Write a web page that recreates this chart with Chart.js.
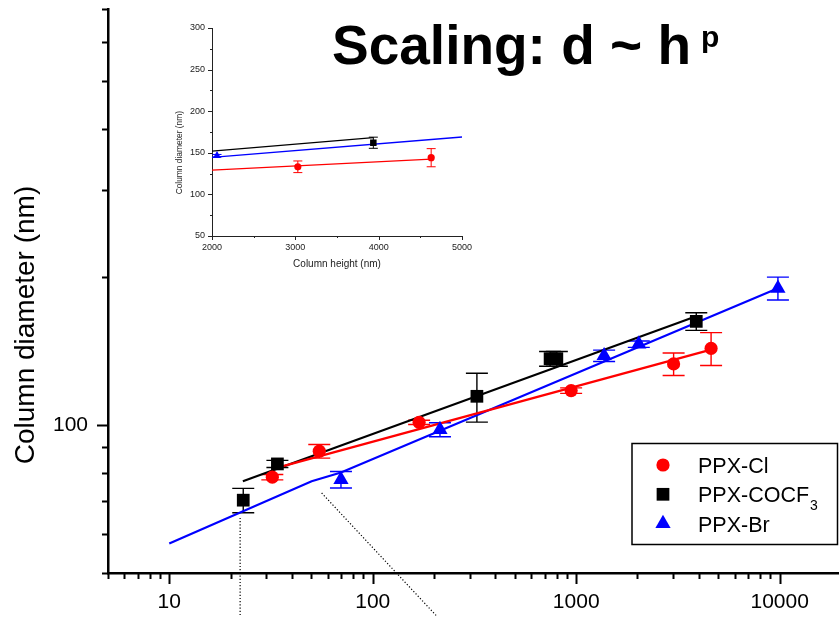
<!DOCTYPE html>
<html lang="en">
<head>
  <meta charset="UTF-8" />
  <title>Column scaling</title>
  <script src="https://cdn.jsdelivr.net/npm/chart.js@4.4.0/dist/chart.umd.min.js"></script>
  <style>
    body { margin: 0; background: #fff; }
    #wrap { position: relative; width: 839px; height: 617px; overflow: hidden; }
    #inset { position: absolute; left: 160px; top: 10px; }
  </style>
</head>
<body>
  <div id="wrap">
    <canvas id="main" width="839" height="617"></canvas>
    <canvas id="inset" width="320" height="270"></canvas>
  </div>

  <script>
    const FONT = '"Liberation Sans", Arial, sans-serif';

    // column height (nm) vs column diameter (nm), with +/- errors
    const clHeight = [32.1, 54.6, 169, 944, 3010, 4600];
    const clDiam   = [78.3, 88.4, 101.2, 117.4, 133.0, 143.0];
    const clErr    = [1.0, 2.8, 1.0, 1.5, 7.0, 11.0];

    const cocf3Height = [23.1, 34.0, 325, 744, 803, 3890];
    const cocf3Diam   = [70.3, 83.3, 114.3, 136.3, 136.3, 162.3];
    const cocf3Err    = [4.0, 1.4, 13.0, 4.7, 4.7, 6.7];

    const brHeight = [69.8, 214, 1371, 2030, 9800];
    const brDiam   = [77.4, 97.8, 138.2, 145.9, 189.5];
    const brErr    = [3.0, 3.2, 3.7, 2.2, 10.1];

    // power-law fit lines
    const clFitH = [32.0, 4600];
    const clFitD = [81.3, 142.2];
    const cocf3FitH = [23.0, 3890];
    const cocf3FitD = [76.8, 166.2];
    const brFitH = [10, 50.1, 69.8, 9800];
    const brFitD = [57.4, 76.8, 80.0, 189.5];

    // dotted guides down to the x axis
    const guideAH = [22.3, 22.3];
    const guideAD = [64.7, 40.8];
    const guideBH = [56.1, 207];
    const guideBD = [72.7, 40.8];

    const xTickLabels = [10, 100, 1000, 10000];
    const yTickLabels = [100];

    // inset: linear zoom on the tall columns
    const insetClH = [3030, 4630];
    const insetClD = [133.2, 144.1];
    const insetClErr = [7.0, 10.9];
    const insetCocf3H = [3936];
    const insetCocf3D = [162.1];
    const insetCocf3Err = [6.7];
    const insetBrH = [2060];
    const insetBrD = [146.5];
    const insetBrErr = [1.5];
    const insetClFitH = [2000, 4630];
    const insetClFitD = [129.2, 142.4];
    const insetCocf3FitH = [2000, 3936];
    const insetCocf3FitD = [152.1, 168.2];
    const insetBrFitH = [2000, 5000];
    const insetBrFitD = [144.4, 169.0];
    const insetXTicks = [2000, 3000, 4000, 5000];
    const insetYTicks = [50, 100, 150, 200, 250, 300];

    const RED = '#ff0000', BLACK = '#000000', BLUE = '#0000ff';

    const pts = (xs, ys) => xs.map((x, i) => ({ x, y: ys[i] }));

    function series(label, xs, ys, errs, color, style, radius) {
      return {
        label, data: pts(xs, ys), errs,
        showLine: false, pointStyle: style,
        pointRadius: radius, pointHoverRadius: radius,
        backgroundColor: color, borderColor: color, pointBorderWidth: 0,
        clip: false
      };
    }

    function fitLine(xs, ys, color, width, dash) {
      return {
        data: pts(xs, ys), showLine: true,
        borderColor: color, borderWidth: width, borderDash: dash || [],
        pointRadius: 0, pointHoverRadius: 0, clip: false, fill: false
      };
    }

    // 1..9 x 10^n ticks between min and max
    function logTicks(min, max) {
      const out = [];
      for (let e = Math.floor(Math.log10(min)); Math.pow(10, e) <= max; e++) {
        for (let m = 1; m < 10; m++) {
          const v = m * Math.pow(10, e);
          if (v >= min && v <= max) out.push(v);
        }
      }
      return out;
    }

    const errorBars = {
      id: 'errorBars',
      beforeDatasetsDraw(chart, args, opts) {
        const { ctx, scales: { x, y } } = chart;
        ctx.save();
        ctx.lineWidth = opts.width;
        chart.data.datasets.forEach(ds => {
          if (!ds.errs) return;
          ctx.strokeStyle = ds.borderColor;
          ds.data.forEach((p, i) => {
            const px = x.getPixelForValue(p.x);
            const top = y.getPixelForValue(p.y + ds.errs[i]);
            const bot = y.getPixelForValue(p.y - ds.errs[i]);
            ctx.beginPath();
            ctx.moveTo(px, top); ctx.lineTo(px, bot);
            ctx.moveTo(px - opts.cap, top); ctx.lineTo(px + opts.cap, top);
            ctx.moveTo(px - opts.cap, bot); ctx.lineTo(px + opts.cap, bot);
            ctx.stroke();
          });
        });
        ctx.restore();
      }
    };

    // outward tick marks, long where the tick carries a label
    const tickMarks = {
      id: 'tickMarks',
      afterDraw(chart, args, opts) {
        const { ctx, chartArea } = chart;
        const x = chart.scales.x, y = chart.scales.y;
        ctx.save();
        ctx.strokeStyle = opts.color;
        ctx.lineWidth = opts.width;
        ctx.beginPath();
        x.ticks.forEach(t => {
          const px = Math.round(x.getPixelForValue(t.value)) + 0.5;
          const len = t.label !== '' ? opts.major : opts.minor;
          ctx.moveTo(px, chartArea.bottom);
          ctx.lineTo(px, chartArea.bottom + len);
        });
        y.ticks.forEach(t => {
          const py = Math.round(y.getPixelForValue(t.value)) + 0.5;
          const len = t.label !== '' ? opts.major : opts.minor;
          ctx.moveTo(chartArea.left, py);
          ctx.lineTo(chartArea.left - len, py);
        });
        ctx.stroke();
        ctx.restore();
      }
    };

    const textItems = {
      id: 'textItems',
      afterDraw(chart, args, opts) {
        const ctx = chart.ctx;
        opts.items.forEach(t => {
          ctx.save();
          ctx.font = t.font;
          ctx.fillStyle = t.color || '#000';
          ctx.textAlign = t.align || 'left';
          ctx.textBaseline = t.baseline || 'alphabetic';
          ctx.translate(t.x, t.y);
          if (t.angle) ctx.rotate(t.angle);
          ctx.fillText(t.text, 0, 0);
          ctx.restore();
        });
      }
    };

    const boxLegend = {
      id: 'boxLegend',
      afterDraw(chart, args, o) {
        const ctx = chart.ctx;
        ctx.save();
        ctx.lineWidth = 1.5;
        ctx.strokeStyle = '#000';
        ctx.strokeRect(o.left, o.top, o.width, o.height);
        chart.data.datasets.filter(d => d.errs).forEach((ds, i) => {
          const cy = o.top + o.firstRow + i * o.rowGap;
          ctx.fillStyle = ds.backgroundColor;
          Chart.helpers.drawPoint(ctx, {
            pointStyle: ds.pointStyle, radius: ds.pointRadius, borderWidth: 0, rotation: 0
          }, o.markerX, cy);
          ctx.fillStyle = '#000';
          ctx.textBaseline = 'alphabetic';
          ctx.textAlign = 'left';
          const [main, sub] = ds.label.split('\u2083');
          ctx.font = o.fontSize + 'px ' + FONT;
          ctx.fillText(main, o.textX, cy + 8);
          if (sub !== undefined) {
            const w = ctx.measureText(main).width;
            ctx.font = o.subSize + 'px ' + FONT;
            ctx.fillText('3', o.textX + w + 1, cy + 16);
          }
        });
        ctx.restore();
      }
    };

    new Chart(document.getElementById('main'), {
      type: 'scatter',
      data: {
        datasets: [
          series('PPX-Cl', clHeight, clDiam, clErr, RED, 'circle', 6.6),
          series('PPX-COCF\u2083', cocf3Height, cocf3Diam, cocf3Err, BLACK, 'rect', 9),
          series('PPX-Br', brHeight, brDiam, brErr, BLUE, 'triangle', 8.8),
          fitLine(clFitH, clFitD, RED, 2.2),
          fitLine(cocf3FitH, cocf3FitD, BLACK, 2.2),
          fitLine(brFitH, brFitD, BLUE, 2.2),
          fitLine(guideAH, guideAD, BLACK, 1.2, [1.2, 2]),
          fitLine(guideBH, guideBD, BLACK, 1.2, [1.2, 2])
        ]
      },
      options: {
        responsive: false,
        animation: false,
        events: [],
        layout: { autoPadding: false, padding: { top: 9, right: 0, bottom: 0, left: 0 } },
        plugins: {
          legend: { display: false },
          tooltip: { enabled: false },
          errorBars: { width: 1.4, cap: 11 },
          tickMarks: { major: 11, minor: 6, width: 2, color: '#000' },
          boxLegend: {
            left: 632, top: 443.5, width: 205.5, height: 101,
            firstRow: 21.5, rowGap: 29.3, markerX: 663, textX: 698,
            fontSize: 21.5, subSize: 14
          },
          textItems: {
            items: [
              { text: 'Column diameter (nm)', x: 33.5, y: 325, angle: -Math.PI / 2,
                align: 'center', font: '28px ' + FONT },
              { text: 'Scaling: d ~ h', x: 332, y: 64, font: 'bold 55px ' + FONT },
              { text: 'p', x: 701, y: 47, font: 'bold 30px ' + FONT }
            ]
          }
        },
        scales: {
          x: {
            type: 'logarithmic',
            min: 5,
            max: 19560,
            afterBuildTicks: s => { s.ticks = logTicks(5, 19560).map(v => ({ value: v })); },
            afterFit: s => { s.height = 44; s.paddingLeft = 0; s.paddingRight = 0; },
            ticks: {
              autoSkip: false, maxRotation: 0, padding: 17, color: '#000',
              font: { family: FONT, size: 21 },
              callback: v => xTickLabels.includes(v) ? String(v) : ''
            },
            grid: { display: false, drawTicks: false },
            border: { color: '#000', width: 2.5 }
          },
          y: {
            type: 'logarithmic',
            min: 50,
            max: 700,
            afterBuildTicks: s => { s.ticks = logTicks(50, 700).map(v => ({ value: v })); },
            afterFit: s => { s.width = 108; s.paddingTop = 0; s.paddingBottom = 0; },
            ticks: {
              autoSkip: false, padding: 20, color: '#000',
              font: { family: FONT, size: 21 },
              callback: v => yTickLabels.includes(v) ? String(v) : ''
            },
            grid: { display: false, drawTicks: false },
            border: { color: '#000', width: 2.5 }
          }
        }
      },
      plugins: [errorBars, tickMarks, textItems, boxLegend]
    });

    new Chart(document.getElementById('inset'), {
      type: 'scatter',
      data: {
        datasets: [
          series('PPX-Cl', insetClH, insetClD, insetClErr, RED, 'circle', 3.6),
          series('PPX-COCF\u2083', insetCocf3H, insetCocf3D, insetCocf3Err, BLACK, 'rect', 4.6),
          series('PPX-Br', insetBrH, insetBrD, insetBrErr, BLUE, 'triangle', 4.6),
          fitLine(insetClFitH, insetClFitD, RED, 1.3),
          fitLine(insetCocf3FitH, insetCocf3FitD, BLACK, 1.3),
          fitLine(insetBrFitH, insetBrFitD, BLUE, 1.3)
        ]
      },
      options: {
        responsive: false,
        animation: false,
        events: [],
        layout: { autoPadding: false, padding: { top: 18, right: 18, bottom: 0, left: 0 } },
        plugins: {
          legend: { display: false },
          tooltip: { enabled: false },
          errorBars: { width: 1, cap: 4.5 },
          tickMarks: { major: 4, minor: 2, width: 1, color: '#222' },
          textItems: {
            items: [
              { text: 'Column diameter (nm)', x: 19.5, y: 142.7, angle: -Math.PI / 2,
                align: 'center', baseline: 'middle', font: '8.4px ' + FONT, color: '#222' },
              { text: 'Column height (nm)', x: 177, y: 254.3,
                align: 'center', baseline: 'middle', font: '10px ' + FONT, color: '#222' }
            ]
          }
        },
        scales: {
          x: {
            type: 'linear', min: 2000, max: 5000,
            afterFit: s => { s.height = 44; s.paddingLeft = 0; s.paddingRight = 0; },
            ticks: {
              stepSize: 500, autoSkip: false, maxRotation: 0, padding: 6, color: '#222',
              font: { family: FONT, size: 9 },
              callback: v => insetXTicks.includes(v) ? String(v) : ''
            },
            grid: { display: false, drawTicks: false },
            border: { color: '#222', width: 1 }
          },
          y: {
            type: 'linear', min: 50, max: 300,
            afterFit: s => { s.width = 52; s.paddingTop = 0; s.paddingBottom = 0; },
            ticks: {
              stepSize: 25, autoSkip: false, padding: 7, color: '#222',
              font: { family: FONT, size: 9 },
              callback: v => insetYTicks.includes(v) ? String(v) : ''
            },
            grid: { display: false, drawTicks: false },
            border: { color: '#222', width: 1 }
          }
        }
      },
      plugins: [errorBars, tickMarks, textItems]
    });
  </script>
</body>
</html>
